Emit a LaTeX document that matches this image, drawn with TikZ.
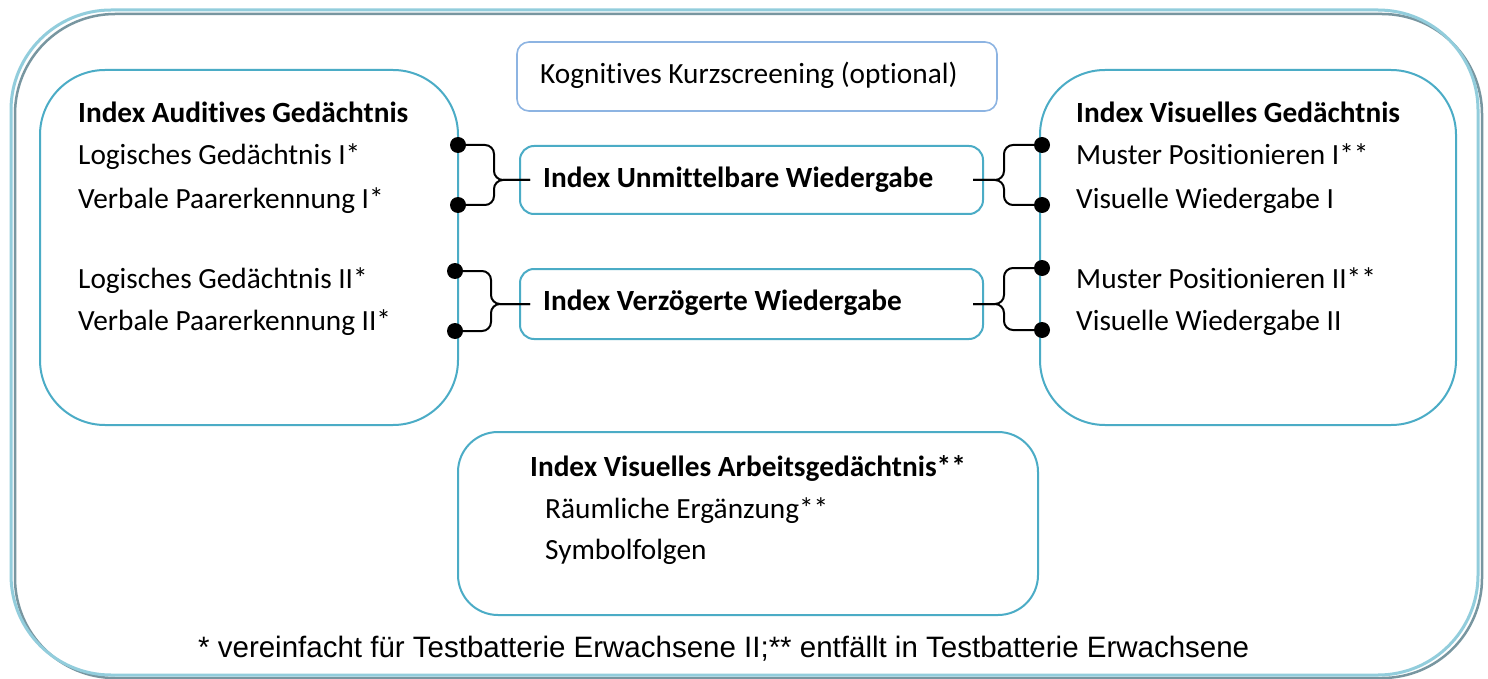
\documentclass[tikz,border=0pt]{standalone}
\usepackage{fontspec}
\setmainfont{Carlito}[Ligatures=NoCommon]
\newfontfamily\arialfont{Liberation Sans}
\usepackage{xcolor}
\usepackage{tikz}
\usetikzlibrary{calc,positioning}
\definecolor{boxteal}{RGB}{75,172,198}
\definecolor{boxsky}{RGB}{141,180,226}
\definecolor{rimblue}{RGB}{146,205,220}
\definecolor{rimgray}{RGB}{120,150,160}
\tikzset{
	panel/.style={draw=boxteal,line width=2pt,rounded corners=#1,inner sep=0pt},
	txt/.style={anchor=base west,inner sep=0pt,font=\fontsize{29.3}{34}\selectfont},
	head/.style={anchor=base west,inner sep=0pt,font=\bfseries\fontsize{29.3}{34}\selectfont},
	knob/.style={circle,fill=black,inner sep=0pt,minimum size=16pt},
	bracelink/.style={black,line width=2pt,rounded corners=9pt,shorten >=-11pt}
}

\begin{document}
\begin{tikzpicture}[x=1pt,y=-1pt]
		\useasboundingbox (0,0) rectangle (1488,679);
		\fill[white] (0,0) rectangle (1488,679);
		\draw[rimgray,line width=2.5pt,rounded corners=100pt] (15,14) rectangle (1482,678);
		\draw[rimblue,line width=3pt,rounded corners=100pt] (11,10) rectangle (1478,675);
		\node[panel=65pt,minimum width=418pt,minimum height=355pt] (aud) at (249,247.5) {};
		\node[panel=65pt,minimum width=416pt,minimum height=355pt] (vis) at (1248,247.5) {};
		\node[panel=40pt,minimum width=580pt,minimum height=183pt] (arb) at (748,523.5) {};
		\node[panel=12pt,draw=boxsky,line width=1.6pt,minimum width=480pt,minimum height=69pt] (kurz) at (757,76.5) {};
		\node[panel=14pt,minimum width=463pt,minimum height=68pt] (unmit) at (751.5,180) {};
		\node[panel=14pt,minimum width=463pt,minimum height=70pt] (verz) at (751.5,304) {};
		\node[txt] (kurzT) at (540,84) {Kognitives Kurzscreening (optional)};
		\node[head] (unmitT) at (543,188) {Index Unmittelbare Wiedergabe};
		\node[head] (verzT) at (543,310) {Index Verzögerte Wiedergabe};
		\node[head] (audT) at (78,123) {Index Auditives Gedächtnis};
		\node[txt] (aud1) at (78,165) {Logisches Gedächtnis I*};
		\node[txt] (aud2) at (78,208) {Verbale Paarerkennung I*};
		\node[txt] (aud3) at (78,288) {Logisches Gedächtnis II*};
		\node[txt] (aud4) at (78,330) {Verbale Paarerkennung II*};
		\node[head] (visT) at (1076,123) {Index Visuelles Gedächtnis};
		\node[txt] (vis1) at (1076,165) {Muster Positionieren I**};
		\node[txt] (vis2) at (1076,208) {Visuelle Wiedergabe I};
		\node[txt] (vis3) at (1076,288) {Muster Positionieren II**};
		\node[txt] (vis4) at (1076,330) {Visuelle Wiedergabe II};
		\node[head] (arbT) at (530,476) {Index Visuelles Arbeitsgedächtnis**};
		\node[txt] (arb1) at (545,518) {Räumliche Ergänzung**};
		\node[txt] (arb2) at (545,559) {Symbolfolgen};
		\node[anchor=base west,inner sep=0pt,font=\arialfont\fontsize{29.5}{34}\selectfont] (fuss) at (198,657) {* vereinfacht für Testbatterie Erwachsene II;** entfällt in Testbatterie Erwachsene};
		\node[knob] (la1) at (458,145) {};
		\node[knob] (la2) at (458,205) {};
		\node[knob] (la3) at (455,271) {};
		\node[knob] (la4) at (455,331) {};
		\node[knob] (ra1) at (1042,145) {};
		\node[knob] (ra2) at (1042,205) {};
		\node[knob] (ra3) at (1042,268) {};
		\node[knob] (ra4) at (1042,330) {};
		\draw[bracelink] (la1) -| ($(unmit.west)+(-25,0)$) -- (unmit.west);
		\draw[bracelink] (la2) -| ($(unmit.west)+(-25,0)$) -- (unmit.west);
		\draw[bracelink] (la3) -| ($(verz.west)+(-28,0)$) -- (verz.west);
		\draw[bracelink] (la4) -| ($(verz.west)+(-28,0)$) -- (verz.west);
		\draw[bracelink] (ra1) -| ($(unmit.east)+(20,0)$) -- (unmit.east);
		\draw[bracelink] (ra2) -| ($(unmit.east)+(20,0)$) -- (unmit.east);
		\draw[bracelink] (ra3) -| ($(verz.east)+(20,0)$) -- (verz.east);
		\draw[bracelink] (ra4) -| ($(verz.east)+(20,0)$) -- (verz.east);
	\end{tikzpicture}
\end{document}
